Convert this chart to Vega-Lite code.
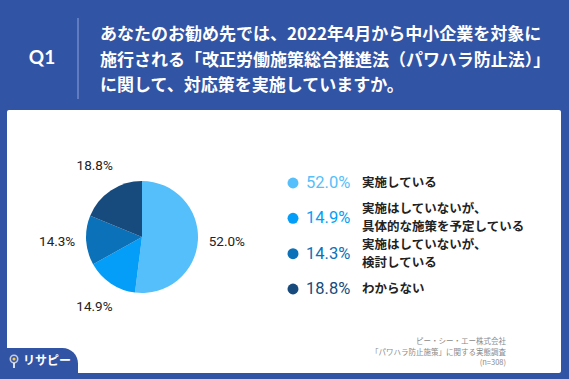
{
  "$schema": "https://vega.github.io/schema/vega-lite/v6.json",
  "width": 569,
  "height": 379,
  "padding": 0,
  "autosize": {"type": "fit", "contains": "padding"},
  "background": "#3254A5",
  "config": {"view": {"stroke": null}, "axis": {"disable": true}},
  "datasets": {
    "slices": [
      {"cat": "実施している", "value": 52.0, "rank": 1, "pct": "52.0%", "single": "実施している", "top": "", "bottom": ""},
      {"cat": "実施はしていないが、具体的な施策を予定している", "value": 14.9, "rank": 2, "pct": "14.9%", "single": "", "top": "実施はしていないが、", "bottom": "具体的な施策を予定している"},
      {"cat": "実施はしていないが、検討している", "value": 14.3, "rank": 3, "pct": "14.3%", "single": "", "top": "実施はしていないが、", "bottom": "検討している"},
      {"cat": "わからない", "value": 18.8, "rank": 4, "pct": "18.8%", "single": "わからない", "top": "", "bottom": ""}
    ],
    "header": [
      {"q": "Q1", "lines": ["あなたのお勧め先では、2022年4月から中小企業を対象に", "施行される「改正労働施策総合推進法（パワハラ防止法）」", "に関して、対応策を実施していますか。"]}
    ],
    "footer": [
      {"brand": "リサピー", "lines": ["ピー・シー・エー株式会社", "「パワハラ防止施策」に関する実態調査", "(n=308)"]}
    ]
  },
  "data": {"name": "slices"},
  "resolve": {"scale": {"y": "independent"}},
  "layer": [
    {
      "data": {"name": "header"},
      "mark": {"type": "rect", "color": "white", "cornerRadius": 2},
      "encoding": {
        "x": {"datum": 7, "scale": {"domain": [0, 569]}},
        "x2": {"datum": 561},
        "y": {"datum": 110, "scale": {"domain": [0, 379], "reverse": true}},
        "y2": {"datum": 373}
      }
    },
    {
      "data": {"name": "footer"},
      "mark": {"type": "rect", "color": "#3254A5", "cornerRadiusTopRight": 20},
      "encoding": {
        "x": {"datum": 0, "scale": {"domain": [0, 569]}},
        "x2": {"datum": 78},
        "y": {"datum": 348, "scale": {"domain": [0, 379], "reverse": true}},
        "y2": {"datum": 379}
      }
    },
    {
      "data": {"name": "footer"},
      "mark": {"type": "point", "shape": "circle", "filled": false, "stroke": "white", "strokeWidth": 1.6, "size": 55},
      "encoding": {
        "x": {"datum": 14, "scale": {"domain": [0, 569]}},
        "y": {"datum": 359, "scale": {"domain": [0, 379], "reverse": true}}
      }
    },
    {
      "data": {"name": "footer"},
      "mark": {"type": "point", "shape": "circle", "filled": true, "color": "#F5C94A", "opacity": 1, "size": 10},
      "encoding": {
        "x": {"datum": 14, "scale": {"domain": [0, 569]}},
        "y": {"datum": 359, "scale": {"domain": [0, 379], "reverse": true}}
      }
    },
    {
      "data": {"name": "footer"},
      "mark": {"type": "rule", "color": "white", "strokeWidth": 1.6},
      "encoding": {
        "x": {"datum": 14, "scale": {"domain": [0, 569]}},
        "y": {"datum": 363, "scale": {"domain": [0, 379], "reverse": true}},
        "y2": {"datum": 368}
      }
    },
    {
      "data": {"name": "footer"},
      "mark": {"type": "text", "color": "white", "font": "Noto Sans CJK JP", "fontWeight": "bold", "fontSize": 12, "align": "left", "baseline": "middle"},
      "encoding": {
        "x": {"datum": 23, "scale": {"domain": [0, 569]}},
        "y": {"datum": 361, "scale": {"domain": [0, 379], "reverse": true}},
        "text": {"field": "brand"}
      }
    },
    {
      "data": {"name": "footer"},
      "mark": {"type": "text", "color": "#8a8a8a", "font": "Noto Sans CJK JP", "fontSize": 7.5, "align": "right", "baseline": "middle", "lineHeight": 10.5},
      "encoding": {
        "x": {"datum": 506, "scale": {"domain": [0, 569]}},
        "y": {"datum": 342, "scale": {"domain": [0, 379], "reverse": true}},
        "text": {"field": "lines"}
      }
    },
    {
      "data": {"name": "header"},
      "mark": {"type": "text", "color": "white", "font": "Lato", "fontWeight": "bold", "fontSize": 19, "align": "center", "baseline": "middle"},
      "encoding": {
        "x": {"datum": 42, "scale": {"domain": [0, 569]}},
        "y": {"datum": 58, "scale": {"domain": [0, 379], "reverse": true}},
        "text": {"field": "q"}
      }
    },
    {
      "data": {"name": "header"},
      "mark": {"type": "rule", "color": "#7189C8", "strokeWidth": 1.5},
      "encoding": {
        "x": {"datum": 78, "scale": {"domain": [0, 569]}},
        "y": {"datum": 18, "scale": {"domain": [0, 379], "reverse": true}},
        "y2": {"datum": 99}
      }
    },
    {
      "data": {"name": "header"},
      "mark": {"type": "text", "color": "white", "font": "Noto Sans CJK JP", "fontWeight": "bold", "fontSize": 17, "align": "left", "baseline": "middle", "lineHeight": 25.5},
      "encoding": {
        "x": {"datum": 100, "scale": {"domain": [0, 569]}},
        "y": {"datum": 35, "scale": {"domain": [0, 379], "reverse": true}},
        "text": {"field": "lines"}
      }
    },
    {
      "mark": {"type": "arc", "outerRadius": 56},
      "encoding": {
        "x": {"datum": 142, "scale": {"domain": [0, 569]}},
        "y": {"datum": 237, "scale": {"domain": [0, 379], "reverse": true}},
        "theta": {"field": "value", "type": "quantitative", "stack": true},
        "order": {"field": "rank", "type": "quantitative"},
        "color": {
          "field": "cat",
          "type": "nominal",
          "legend": null,
          "scale": {
            "domain": ["実施している", "実施はしていないが、具体的な施策を予定している", "実施はしていないが、検討している", "わからない"],
            "range": ["#55BFFB", "#049EF9", "#0B71B8", "#174A7D"]
          }
        }
      }
    },
    {
      "mark": {"type": "text", "radius": 85, "font": "Roboto", "fontSize": 13.5, "color": "#222222"},
      "encoding": {
        "x": {"datum": 142, "scale": {"domain": [0, 569]}},
        "y": {"datum": 237, "scale": {"domain": [0, 379], "reverse": true}},
        "theta": {"field": "value", "type": "quantitative", "stack": true},
        "order": {"field": "rank", "type": "quantitative"},
        "text": {"field": "pct"}
      }
    },
    {
      "mark": {"type": "point", "shape": "circle", "filled": true, "opacity": 1, "size": 120},
      "encoding": {
        "x": {"datum": 293, "scale": {"domain": [0, 569]}},
        "y": {"field": "rank", "type": "quantitative", "scale": {"domain": [1, 4], "range": [183, 289]}},
        "color": {"field": "cat", "type": "nominal", "legend": null}
      }
    },
    {
      "mark": {"type": "text", "font": "Roboto", "fontSize": 16.5, "align": "left", "baseline": "middle"},
      "encoding": {
        "x": {"datum": 306, "scale": {"domain": [0, 569]}},
        "y": {"field": "rank", "type": "quantitative", "scale": {"domain": [1, 4], "range": [183, 289]}},
        "color": {"field": "cat", "type": "nominal", "legend": null},
        "text": {"field": "pct"}
      }
    },
    {
      "mark": {"type": "text", "font": "Noto Sans CJK JP", "fontWeight": "bold", "fontSize": 12.5, "letterSpacing": 1.2, "align": "left", "baseline": "middle", "color": "#222222"},
      "encoding": {
        "x": {"datum": 362, "scale": {"domain": [0, 569]}},
        "y": {"field": "rank", "type": "quantitative", "scale": {"domain": [1, 4], "range": [183, 289]}},
        "text": {"field": "single"}
      }
    },
    {
      "mark": {"type": "text", "font": "Noto Sans CJK JP", "fontWeight": "bold", "fontSize": 12.5, "letterSpacing": 1.2, "align": "left", "baseline": "middle", "color": "#222222", "dy": -9},
      "encoding": {
        "x": {"datum": 362, "scale": {"domain": [0, 569]}},
        "y": {"field": "rank", "type": "quantitative", "scale": {"domain": [1, 4], "range": [183, 289]}},
        "text": {"field": "top"}
      }
    },
    {
      "mark": {"type": "text", "font": "Noto Sans CJK JP", "fontWeight": "bold", "fontSize": 12.5, "letterSpacing": 1.2, "align": "left", "baseline": "middle", "color": "#222222", "dy": 9},
      "encoding": {
        "x": {"datum": 362, "scale": {"domain": [0, 569]}},
        "y": {"field": "rank", "type": "quantitative", "scale": {"domain": [1, 4], "range": [183, 289]}},
        "text": {"field": "bottom"}
      }
    }
  ]
}
